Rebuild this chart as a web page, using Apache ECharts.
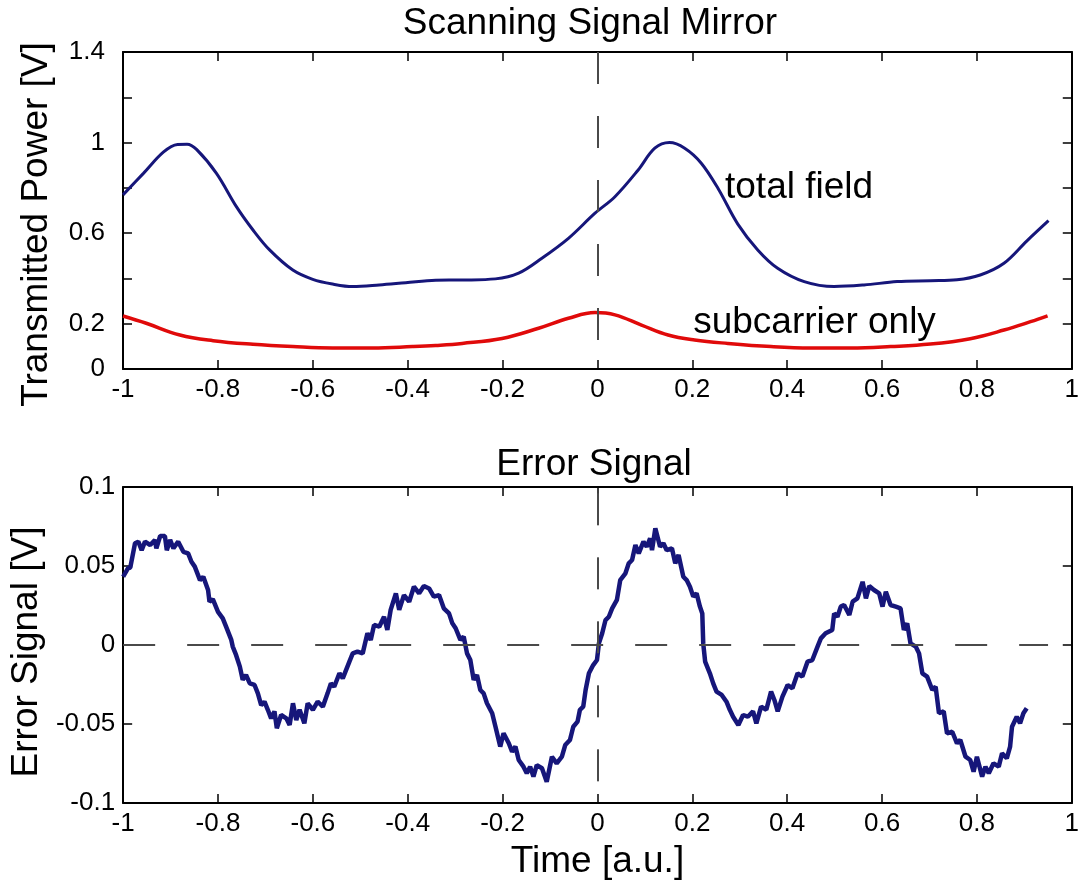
<!DOCTYPE html>
<html>
<head>
<meta charset="utf-8">
<script src="https://cdn.jsdelivr.net/npm/echarts@6/dist/echarts.min.js"></script>
<style>
  html, body { margin: 0; padding: 0; background: #fff; }
  #chart { width: 1082px; height: 894px; }
</style>
</head>
<body>
<div id="chart"></div>
<script>
// Transmitted power while the mirror is scanned: total field
const totalX = [-1.0, -0.957, -0.915, -0.885, -0.865, -0.845, -0.803, -0.761, -0.726, -0.691, -0.642, -0.600,
  -0.558, -0.516, -0.460, -0.404, -0.341, -0.285, -0.215, -0.166, -0.117, -0.061, -0.005, 0.037, 0.086,
  0.121, 0.152, 0.184, 0.219, 0.255, 0.296, 0.338, 0.380, 0.436, 0.499, 0.562, 0.632, 0.702, 0.758,
  0.807, 0.857, 0.905, 0.951];
const totalY = [0.769, 0.864, 0.958, 0.992, 0.993, 0.970, 0.864, 0.717, 0.614, 0.526, 0.437, 0.396,
  0.375, 0.364, 0.371, 0.381, 0.392, 0.393, 0.398, 0.423, 0.489, 0.577, 0.688, 0.761, 0.879,
  0.975, 1.000, 0.975, 0.909, 0.795, 0.640, 0.526, 0.445, 0.386, 0.364, 0.371, 0.386, 0.390, 0.394,
  0.415, 0.467, 0.565, 0.655];

// Subcarrier only
const subX = [-1.0, -0.951, -0.880, -0.810, -0.726, -0.642, -0.558, -0.474, -0.390, -0.341, -0.285, -0.201,
  -0.124, -0.061, -0.005, 0.037, 0.093, 0.149, 0.205, 0.275, 0.366, 0.450, 0.534, 0.618, 0.702, 0.786,
  0.857, 0.913, 0.949];
const subY = [0.234, 0.202, 0.150, 0.125, 0.109, 0.099, 0.093, 0.093, 0.099, 0.104, 0.113, 0.135,
  0.180, 0.224, 0.249, 0.239, 0.194, 0.150, 0.128, 0.113, 0.099, 0.093, 0.093, 0.099, 0.110, 0.134,
  0.172, 0.209, 0.235];

// Error signal trace
const errX = [-1.0, -0.99, -0.985, -0.975, -0.968, -0.961, -0.954, -0.943, -0.933, -0.930, -0.922, -0.912,
  -0.908, -0.901, -0.894, -0.884, -0.873, -0.863, -0.856, -0.849, -0.838, -0.831, -0.821, -0.818, -0.811,
  -0.800, -0.790, -0.783, -0.772, -0.769, -0.762, -0.754, -0.748, -0.741, -0.733, -0.723, -0.716, -0.709,
  -0.702, -0.695, -0.688, -0.681, -0.676, -0.667, -0.656, -0.649, -0.642, -0.635, -0.628, -0.618, -0.611,
  -0.600, -0.590, -0.579, -0.569, -0.562, -0.555, -0.544, -0.537, -0.523, -0.516, -0.506, -0.495, -0.485,
  -0.478, -0.471, -0.460, -0.450, -0.443, -0.436, -0.425, -0.418, -0.408, -0.397, -0.387, -0.376, -0.366,
  -0.355, -0.345, -0.334, -0.324, -0.313, -0.306, -0.299, -0.289, -0.282, -0.275, -0.268, -0.261, -0.254,
  -0.247, -0.240, -0.233, -0.222, -0.215, -0.205, -0.198, -0.187, -0.180, -0.173, -0.166, -0.156, -0.149,
  -0.142, -0.135, -0.128, -0.117, -0.107, -0.096, -0.086, -0.075, -0.068, -0.058, -0.051, -0.042, -0.037,
  -0.030, -0.025, -0.018, -0.009, -0.001, 0.003, 0.010, 0.017, 0.024, 0.031, 0.041, 0.048, 0.059, 0.066,
  0.073, 0.080, 0.087, 0.097, 0.104, 0.111, 0.115, 0.122, 0.132, 0.139, 0.146, 0.157, 0.164, 0.171, 0.181,
  0.188, 0.195, 0.202, 0.209, 0.216, 0.221, 0.223, 0.227, 0.237, 0.244, 0.251, 0.262, 0.272, 0.279, 0.286,
  0.297, 0.307, 0.317, 0.328, 0.335, 0.345, 0.356, 0.366, 0.373, 0.380, 0.390, 0.401, 0.411, 0.422, 0.432,
  0.443, 0.453, 0.464, 0.471, 0.481, 0.495, 0.499, 0.506, 0.513, 0.520, 0.531, 0.538, 0.548, 0.559, 0.566,
  0.573, 0.583, 0.594, 0.601, 0.608, 0.618, 0.629, 0.639, 0.646, 0.653, 0.660, 0.671, 0.678, 0.685, 0.695,
  0.706, 0.713, 0.720, 0.730, 0.737, 0.748, 0.758, 0.765, 0.776, 0.786, 0.793, 0.800, 0.811, 0.818, 0.825,
  0.835, 0.846, 0.853, 0.863, 0.870, 0.874, 0.884, 0.891, 0.898, 0.905];
const errY = [0.0432, 0.0485, 0.0490, 0.0644, 0.0654, 0.0600, 0.0654, 0.0633, 0.0665, 0.0612, 0.0690, 0.0690,
  0.0600, 0.0665, 0.0612, 0.0654, 0.0590, 0.0580, 0.0527, 0.0496, 0.0411, 0.0432, 0.0348, 0.0274, 0.0290,
  0.0210, 0.0169, 0.0116, 0.0032, -0.0010, -0.0063, -0.0137, -0.0220, -0.0190, -0.0243, -0.0253, -0.0306, -0.0380,
  -0.0359, -0.0410, -0.0464, -0.0420, -0.0527, -0.0443, -0.0464, -0.0506, -0.0369, -0.0475, -0.0410, -0.0496, -0.0369,
  -0.0410, -0.0359, -0.0390, -0.0306, -0.0243, -0.0264, -0.0179, -0.0211, -0.0105, -0.0053, -0.0042, -0.0053, 0.0074,
  0.0032, 0.0127, 0.0116, 0.0179, 0.0095, 0.0222, 0.0327, 0.0222, 0.0316, 0.0274, 0.0369, 0.0327, 0.0373,
  0.0358, 0.0306, 0.0316, 0.0232, 0.0200, 0.0137, 0.0106, 0.0032, 0.0053, -0.0053, -0.0095, -0.0220, -0.0190,
  -0.0285, -0.0306, -0.0369, -0.0432, -0.0517, -0.0643, -0.0559, -0.0622, -0.0675, -0.0643, -0.0728, -0.0770, -0.0812,
  -0.0770, -0.0833, -0.0760, -0.0780, -0.0865, -0.0707, -0.0749, -0.0707, -0.0633, -0.0601, -0.0517, -0.0485, -0.0410,
  -0.0390, -0.0285, -0.0179, -0.0127, -0.0095, 0.0010, 0.0074, 0.0158, 0.0179, 0.0232, 0.0285, 0.0411, 0.0454, 0.0517,
  0.0538, 0.0633, 0.0580, 0.0654, 0.0622, 0.0675, 0.0600, 0.0738, 0.0622, 0.0644, 0.0600, 0.0612, 0.0517, 0.0570, 0.0432,
  0.0411, 0.0369, 0.0306, 0.0327, 0.0243, 0.0200, 0.0010, -0.0105, -0.0179, -0.0243, -0.0295, -0.0316, -0.0359, -0.0410, -0.0454,
  -0.0506, -0.0443, -0.0454, -0.0420, -0.0496, -0.0390, -0.0410, -0.0295, -0.0348, -0.0420, -0.0327, -0.0253, -0.0274, -0.0179, -0.0200,
  -0.0105, -0.0095, -0.0010, 0.0042, 0.0074, 0.0095, 0.0200, 0.0179, 0.0243, 0.0253, 0.0190, 0.0274, 0.0295, 0.0400, 0.0295,
  0.0373, 0.0348, 0.0327, 0.0243, 0.0337, 0.0253, 0.0243, 0.0232, 0.0095, 0.0137, 0.0010, -0.0010, -0.0053, -0.0179, -0.0200,
  -0.0285, -0.0264, -0.0432, -0.0420, -0.0559, -0.0549, -0.0622, -0.0601, -0.0707, -0.0728, -0.0802, -0.0707, -0.0833, -0.0770, -0.0812,
  -0.0749, -0.0770, -0.0686, -0.0717, -0.0643, -0.0517, -0.0454, -0.0496, -0.0432, -0.0400];

// Axis tick labels shown on the power axis
const powerLabels = [0, 0.2, 0.6, 1, 1.4];

const FONT = "'Liberation Sans', Arial, Helvetica, sans-serif";
const NAVY = '#16167a';
const RED = '#e00a0a';
const DASH = '#4a4a4a';

const zip = (xs, ys) => xs.map((x, i) => [x, ys[i]]);

const boxAxis = (extra) => Object.assign({
  type: 'value',
  axisLine: { show: true, onZero: false, lineStyle: { color: '#000', width: 2 } },
  axisTick: { show: true, inside: true, length: 9, lineStyle: { color: '#000', width: 1.5 } },
  splitLine: { show: false },
  axisLabel: { show: false }
}, extra);

const tickLabel = { show: true, color: '#000', fontFamily: FONT, fontSize: 26 };

const chart = echarts.init(document.getElementById('chart'), null, { renderer: 'canvas' });

chart.setOption({
  backgroundColor: '#fff',
  animation: false,
  grid: [
    { left: 123, top: 52, width: 952, height: 317 },
    { left: 123, top: 487, width: 952, height: 316 }
  ],
  xAxis: [
    boxAxis({ gridIndex: 0, position: 'bottom', min: -1, max: 1, interval: 0.2,
      axisLabel: Object.assign({ margin: 8 }, tickLabel) }),
    boxAxis({ gridIndex: 0, position: 'top', min: -1, max: 1, interval: 0.2 }),
    boxAxis({ gridIndex: 1, position: 'bottom', min: -1, max: 1, interval: 0.2,
      axisLabel: Object.assign({ margin: 8 }, tickLabel),
      name: 'Time [a.u.]', nameLocation: 'middle', nameGap: 40,
      nameTextStyle: { fontFamily: FONT, fontSize: 37, color: '#000' } }),
    boxAxis({ gridIndex: 1, position: 'top', min: -1, max: 1, interval: 0.2 })
  ],
  yAxis: [
    boxAxis({ gridIndex: 0, position: 'left', min: 0, max: 1.4, interval: 0.2,
      axisLabel: Object.assign({ margin: 18,
        formatter: v => powerLabels.some(p => Math.abs(p - v) < 1e-6) ? String(+v.toFixed(1)) : '' }, tickLabel),
      name: 'Transmitted Power [V]', nameLocation: 'middle', nameGap: 68,
      nameTextStyle: { fontFamily: FONT, fontSize: 37, color: '#000', padding: [0, 28, 0, 0] } }),
    boxAxis({ gridIndex: 0, position: 'right', min: 0, max: 1.4, interval: 0.2 }),
    boxAxis({ gridIndex: 1, position: 'left', min: -0.1, max: 0.1, interval: 0.05,
      axisLabel: Object.assign({ margin: 8 }, tickLabel),
      name: 'Error Signal [V]', nameLocation: 'middle', nameGap: 68,
      nameTextStyle: { fontFamily: FONT, fontSize: 37, color: '#000', padding: [0, 14, 0, 0] } }),
    boxAxis({ gridIndex: 1, position: 'right', min: -0.1, max: 0.1, interval: 0.05 })
  ],
  graphic: [
    { type: 'text', x: 590, y: 24, style: { text: 'Scanning Signal Mirror', font: '37px ' + FONT,
      fill: '#000', align: 'center', verticalAlign: 'middle' } },
    { type: 'text', x: 594, y: 465, style: { text: 'Error Signal', font: '37px ' + FONT,
      fill: '#000', align: 'center', verticalAlign: 'middle' } }
  ],
  series: [
    {
      name: 'total field', type: 'line', xAxisIndex: 0, yAxisIndex: 0,
      data: zip(totalX, totalY), showSymbol: false, smooth: 0.35,
      lineStyle: { color: NAVY, width: 3 },
      markLine: {
        silent: true, symbol: 'none', label: { show: false },
        lineStyle: { color: DASH, width: 2, type: [32, 32] },
        data: [[{ coord: [0, 1.4] }, { coord: [0, 0] }]]
      },
      markPoint: {
        symbol: 'circle', symbolSize: 0,
        label: { show: true, position: 'right', distance: 0, formatter: 'total field',
          fontFamily: FONT, fontSize: 37, color: '#000' },
        data: [{ coord: [0.269, 0.80] }]
      }
    },
    {
      name: 'subcarrier only', type: 'line', xAxisIndex: 0, yAxisIndex: 0,
      data: zip(subX, subY), showSymbol: false, smooth: 0.4,
      lineStyle: { color: RED, width: 3.5 },
      markPoint: {
        symbol: 'circle', symbolSize: 0,
        label: { show: true, position: 'right', distance: 0, formatter: 'subcarrier only',
          fontFamily: FONT, fontSize: 37, color: '#000' },
        data: [{ coord: [0.202, 0.203] }]
      }
    },
    {
      name: 'error signal', type: 'line', xAxisIndex: 2, yAxisIndex: 2,
      data: zip(errX, errY), showSymbol: false,
      lineStyle: { color: NAVY, width: 4.5 },
      markLine: {
        silent: true, symbol: 'none', label: { show: false },
        lineStyle: { color: DASH, width: 2, type: [32, 32] },
        data: [
          [{ coord: [0, 0.096] }, { coord: [0, -0.1] }],
          [{ coord: [-1, 0] }, { coord: [0.95, 0] }]
        ]
      }
    }
  ]
});
</script>
</body>
</html>
